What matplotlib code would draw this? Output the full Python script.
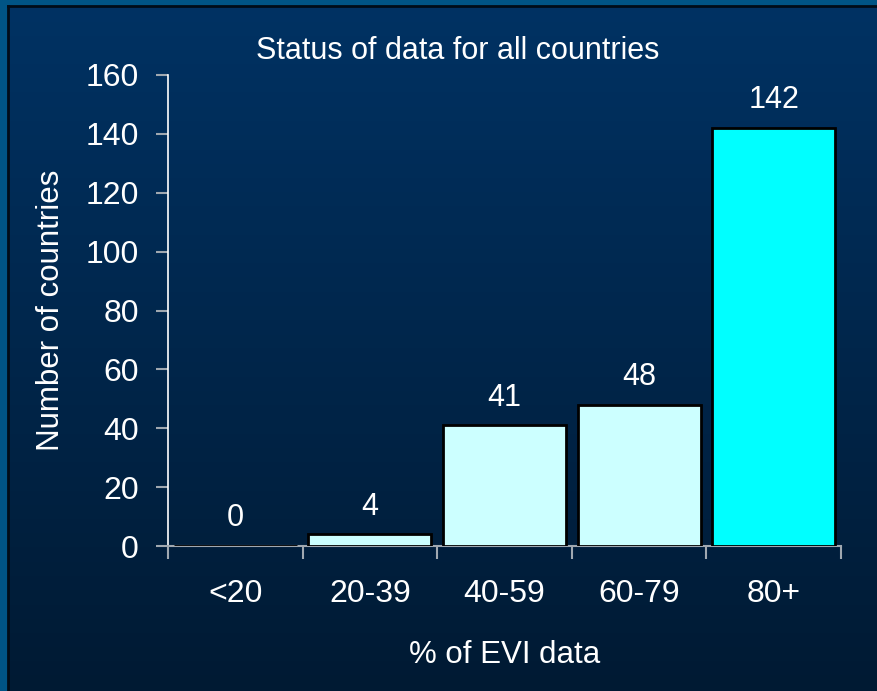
import numpy as np
import matplotlib.pyplot as plt
from matplotlib.colors import LinearSegmentedColormap

plt.rcParams['font.family'] = ['Liberation Sans', 'DejaVu Sans']

# data
categories = ['<20', '20-39', '40-59', '60-79', '80+']
counts = [0, 4, 41, 48, 142]
bar_colors = ['#ccffff', '#ccffff', '#ccffff', '#ccffff', '#00ffff']
yticks = [0, 20, 40, 60, 80, 100, 120, 140, 160]

fig = plt.figure(figsize=(8.77, 6.91), dpi=100)
fig.patch.set_facecolor('#005485')

# slide background: dark blue gradient panel
bg = fig.add_axes([8 / 877, 0, 1 - 8 / 877, 1 - 6 / 691])
grad = np.linspace(0, 1, 256).reshape(-1, 1)
cmap = LinearSegmentedColormap.from_list('panel', ['#003263', '#001a33'])
bg.imshow(grad, aspect='auto', cmap=cmap, extent=[0, 1, 0, 1])
bg.set_xlim(0, 1)
bg.set_ylim(0, 1)
for sp in bg.spines.values():
    sp.set_visible(False)
for side in ['left', 'top']:
    bg.spines[side].set_visible(True)
    bg.spines[side].set_color('#000c18')
    bg.spines[side].set_linewidth(2)
bg.set_xticks([])
bg.set_yticks([])

ax = fig.add_axes([168 / 877, 1 - 546 / 691, (841 - 168) / 877, (546 - 75) / 691])
ax.set_facecolor('none')

x = np.arange(len(categories))
bars = ax.bar(x, counts, width=0.914, color=bar_colors, edgecolor='black',
              linewidth=2, zorder=3)

for xi, v in zip(x, counts):
    ax.annotate(str(v), (xi, v), xytext=(0, 9), textcoords='offset points',
                ha='center', va='bottom', color='white', fontsize=22)

ax.set_xlim(-0.5, len(categories) - 0.5)
ax.set_ylim(0, 160)
ax.set_yticks(yticks)
ax.set_yticklabels([str(t) for t in yticks])

# category labels centred, ticks at the boundaries
ax.set_xticks(x)
ax.set_xticklabels(categories)
ax.set_xticks(np.arange(-0.5, len(categories)), minor=True)
ax.tick_params(axis='x', which='major', length=0, pad=24, labelsize=23,
               labelcolor='white')
ax.tick_params(axis='x', which='minor', length=9, width=1.5, color='#a0a8b0',
               direction='out')
ax.tick_params(axis='y', length=9, width=1.5, color='#a0a8b0', pad=12,
               labelsize=23, labelcolor='white')

for side in ['top', 'right']:
    ax.spines[side].set_visible(False)
ax.spines['left'].set_color('white')
ax.spines['left'].set_linewidth(1.2)
ax.spines['bottom'].set_color('#a0a8b0')
ax.spines['bottom'].set_linewidth(1.5)

ax.set_xlabel('% of EVI data', color='white', fontsize=22.5, labelpad=22)
ax.set_ylabel('Number of countries', color='white', fontsize=22.5, labelpad=14)
fig.text(458 / 877, 1 - 51 / 691, 'Status of data for all countries',
         ha='center', va='center', color='white', fontsize=22)

fig.savefig('out.png', dpi=100, facecolor=fig.get_facecolor())
